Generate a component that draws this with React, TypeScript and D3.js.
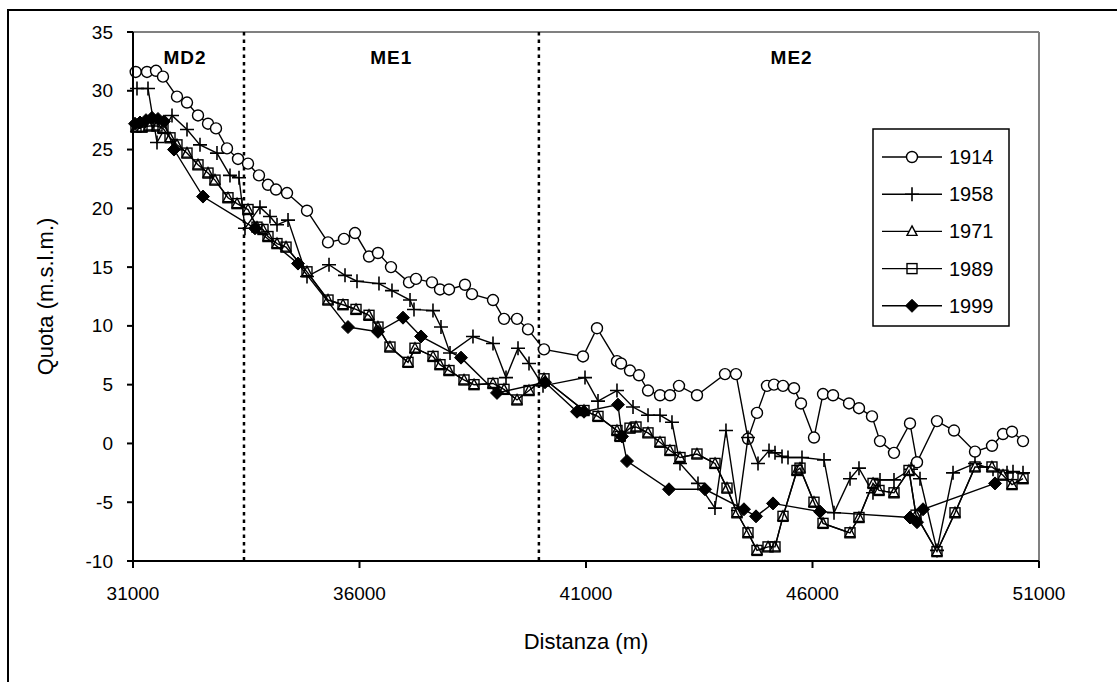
import React from "react";
import * as d3 from "d3";

// ---- Data (distance m, quota m.s.l.m.) ----
const s1914: [number, number][] = [
  [31060, 31.6], [31309, 31.6], [31508, 31.7], [31662, 31.2], [31971, 29.5], [32192, 29.0],
  [32435, 27.9], [32656, 27.2], [32832, 26.8], [33075, 25.1], [33318, 24.2], [33539, 23.8],
  [33781, 22.8], [33980, 22.0], [34157, 21.6], [34400, 21.3], [34841, 19.8], [35305, 17.1],
  [35658, 17.4], [35901, 17.9], [36210, 15.9], [36408, 16.2], [36695, 15.0], [37093, 13.7],
  [37247, 14.0], [37600, 13.7], [37777, 13.1], [37976, 13.1], [38329, 13.5], [38483, 12.7],
  [38947, 12.2], [39190, 10.6], [39477, 10.6], [39720, 9.7], [40073, 8.0], [40934, 7.4],
  [41243, 9.8], [41684, 7.0], [41773, 6.8], [41971, 6.2], [42170, 5.8], [42369, 4.5],
  [42634, 4.1], [42854, 4.1], [43053, 4.9], [43450, 4.1], [44068, 5.9], [44311, 5.9],
  [44576, 0.4], [44775, 2.6], [44995, 4.9], [45150, 5.0], [45349, 4.9], [45592, 4.7],
  [45746, 3.4], [46033, 0.5], [46232, 4.2], [46453, 4.1], [46806, 3.4], [47026, 3.0],
  [47313, 2.3], [47490, 0.2], [47799, -0.8], [48152, 1.7], [48307, -1.6], [48748, 1.9],
  [49124, 1.1], [49587, -0.7], [49963, -0.2], [50205, 0.8], [50404, 1.0], [50647, 0.2],
];

const s1958: [number, number][] = [
  [31088, 30.2], [31331, 30.2], [31530, 25.6], [31861, 27.9], [32192, 26.7], [32479, 25.4],
  [32854, 24.7], [33141, 22.8], [33340, 22.6], [33472, 18.3], [33803, 20.1], [34024, 19.3],
  [34179, 18.6], [34422, 19.0], [34841, 14.2], [35327, 15.2], [35680, 14.3], [35945, 13.8],
  [36430, 13.6], [36717, 13.0], [37115, 12.2], [37203, 11.4], [37622, 11.3], [37799, 9.9],
  [37998, 7.7], [38505, 9.1], [38947, 8.5], [39234, 5.6], [39499, 8.1], [39742, 6.8],
  [40051, 4.9], [40978, 5.6], [41265, 3.6], [41684, 4.5], [42038, 3.1], [42369, 2.4],
  [42634, 2.4], [42898, 1.8], [43075, -1.7], [43472, -3.4], [43847, -5.5], [44090, 1.1],
  [44355, -5.7], [44576, 0.5], [44797, -1.7], [45040, -0.6], [45172, -0.8], [45327, -1.1],
  [45459, -1.2], [45768, -1.2], [46254, -1.4], [46475, -5.9], [46828, -3.0], [47026, -2.1],
  [47335, -4.2], [47490, -3.1], [47799, -3.1], [48174, -2.2], [48373, -3.0], [48748, -9.1],
  [49102, -2.5], [49587, -1.7], [49985, -2.2], [50294, -2.5], [50426, -2.4], [50647, -2.5],
];

const s1971: [number, number][] = [
  [31066, 26.9], [31199, 26.9], [31353, 27.0], [31530, 27.0], [31662, 26.8], [31817, 26.0],
  [31971, 25.4], [32192, 24.7], [32435, 23.7], [32656, 23.0], [32810, 22.4], [33097, 20.9],
  [33296, 20.4], [33539, 19.9], [33737, 18.4], [33870, 18.2], [33980, 17.6], [34179, 17.0],
  [34378, 16.7], [34841, 14.6], [35305, 12.2], [35636, 11.8], [35923, 11.4], [36210, 10.9],
  [36408, 9.9], [36673, 8.2], [37071, 6.9], [37225, 8.1], [37623, 7.4], [37777, 6.7],
  [37976, 6.2], [38307, 5.4], [38528, 5.0], [38947, 5.1], [39190, 4.6], [39477, 3.7],
  [39742, 4.5], [40073, 5.5], [40956, 2.8], [41265, 2.3], [41684, 1.1], [41751, 0.6],
  [41971, 1.3], [42104, 1.4], [42369, 0.9], [42634, 0.1], [42854, -0.6], [43075, -1.2],
  [43450, -0.9], [43848, -1.7], [44113, -3.8], [44333, -5.9], [44576, -7.6], [44775, -9.1],
  [45018, -8.8], [45172, -8.8], [45349, -6.2], [45658, -2.3], [45724, -2.1], [46033, -5.0],
  [46232, -6.8], [46828, -7.6], [47026, -6.3], [47336, -3.4], [47468, -4.0], [47799, -4.2],
  [48130, -2.3], [48285, -6.1], [48748, -9.2], [49146, -5.9], [49587, -2.0], [49962, -2.0],
  [50205, -2.7], [50404, -3.5], [50647, -3.0],
];

const s1989: [number, number][] = [
  [31066, 26.9], [31199, 26.9], [31353, 27.0], [31530, 27.0], [31662, 26.8], [31817, 26.0],
  [31971, 25.4], [32192, 24.7], [32435, 23.7], [32656, 23.0], [32810, 22.4], [33097, 20.9],
  [33296, 20.4], [33539, 19.9], [33737, 18.4], [33870, 18.2], [33980, 17.6], [34179, 17.0],
  [34378, 16.7], [34841, 14.6], [35305, 12.2], [35636, 11.8], [35923, 11.4], [36210, 10.9],
  [36408, 9.9], [36673, 8.2], [37071, 6.9], [37225, 8.1], [37623, 7.4], [37777, 6.7],
  [37976, 6.2], [38307, 5.4], [38528, 5.0], [38947, 5.1], [39190, 4.6], [39477, 3.7],
  [39742, 4.5], [40073, 5.5], [40956, 2.8], [41265, 2.3], [41684, 1.1], [41751, 0.6],
  [41971, 1.3], [42104, 1.4], [42369, 0.9], [42634, 0.1], [42854, -0.6], [43075, -1.2],
  [43450, -0.9], [43848, -1.7], [44113, -3.8], [44333, -5.9], [44576, -7.6], [44775, -9.1],
  [45018, -8.8], [45172, -8.8], [45349, -6.2], [45658, -2.3], [45724, -2.1], [46033, -5.0],
  [46232, -6.8], [46828, -7.6], [47026, -6.3], [47336, -3.4], [47468, -4.0], [47799, -4.2],
  [48130, -2.3], [48285, -6.1], [48748, -9.2], [49146, -5.9], [49587, -2.0], [49962, -2.0],
  [50205, -2.7], [50404, -3.5], [50647, -3.0],
];

const s1999: [number, number][] = [
  [31044, 27.2], [31155, 27.3], [31287, 27.5], [31420, 27.7], [31552, 27.6], [31684, 27.4],
  [31905, 25.0], [32545, 21.0], [33693, 18.3], [34642, 15.3], [35746, 9.9], [36408, 9.5],
  [36960, 10.7], [37358, 9.1], [38241, 7.3], [39035, 4.3], [40095, 5.2], [40801, 2.7],
  [40956, 2.7], [41706, 3.3], [41795, 0.6], [41905, -1.5], [42832, -3.9], [43627, -3.9],
  [44487, -5.6], [44753, -6.2], [45128, -5.1], [46166, -5.8], [48152, -6.3], [48307, -6.7],
  [48440, -5.6], [50029, -3.4],
];

const seriesNames = ["1914", "1958", "1971", "1989", "1999"];
const seriesMarkers = ["circle", "plus", "triangle", "square", "diamond"];
const seriesData = [s1914, s1958, s1971, s1989, s1999];

const xTicks = [31000, 36000, 41000, 46000, 51000];
const yTicks = [-10, -5, 0, 5, 10, 15, 20, 25, 30, 35];

const sectionBounds = [33450, 39960];
const sectionLabels: [string, number][] = [
  ["MD2", 32150],
  ["ME1", 36700],
  ["ME2", 45540],
];

const FONT = "'Liberation Sans', Arial, Helvetica, sans-serif";

function Marker({ type, x, y }: { type: string; x: number; y: number }) {
  const sw = 1.4;
  switch (type) {
    case "circle":
      return <circle cx={x} cy={y} r={5.5} fill="#fff" stroke="#000" strokeWidth={sw} />;
    case "plus":
      return (
        <path
          d={`M${x - 7},${y}H${x + 7}M${x},${y - 7}V${y + 7}`}
          stroke="#000"
          strokeWidth={1.6}
          fill="none"
        />
      );
    case "triangle":
      return (
        <path
          d={`M${x},${y - 5.5}L${x + 5},${y + 4}L${x - 5},${y + 4}Z`}
          fill="#fff"
          stroke="#000"
          strokeWidth={sw}
        />
      );
    case "square":
      return (
        <rect x={x - 5} y={y - 5} width={10} height={10} fill="none" stroke="#000" strokeWidth={sw} />
      );
    case "diamond":
      return (
        <path
          d={`M${x},${y - 6.5}L${x + 6.5},${y}L${x},${y + 6.5}L${x - 6.5},${y}Z`}
          fill="#000"
          stroke="#000"
          strokeWidth={1}
        />
      );
    default:
      return null;
  }
}

export default function App() {
  const W = 1117;
  const H = 682;
  const left = 133;
  const right = 1039;
  const top = 32;
  const bottom = 561;

  const x = d3.scaleLinear().domain([31000, 51000]).range([left, right]);
  const y = d3.scaleLinear().domain([-10, 35]).range([bottom, top]);
  const line = d3
    .line<[number, number]>()
    .x((d) => x(d[0]))
    .y((d) => y(d[1]));

  const legendX = 873;
  const legendY = 129;
  const legendW = 136;
  const legendH = 197;
  const legendRowY = (i: number) => 157 + i * 37.2;

  return (
    <svg
      width={W}
      height={H}
      style={{ position: "absolute", left: 0, top: 0, display: "block", background: "#fff" }}
      fontFamily={FONT}
    >
      <rect x={0} y={0} width={W} height={H} fill="#fff" />
      {/* outer frame */}
      <rect x={8} y={10} width={1300} height={900} fill="none" stroke="#000" strokeWidth={2} />

      {/* plot border (top/right gray) */}
      <line x1={left} x2={right} y1={top} y2={top} stroke="#808080" strokeWidth={2} />
      <line x1={right} x2={right} y1={top} y2={bottom} stroke="#808080" strokeWidth={2} />

      {/* section dividers */}
      {sectionBounds.map((b) => (
        <line
          key={b}
          x1={x(b)}
          x2={x(b)}
          y1={top}
          y2={bottom}
          stroke="#000"
          strokeWidth={2.5}
          strokeDasharray="3.5,4"
        />
      ))}
      {sectionLabels.map(([t, d]) => (
        <text
          key={t}
          x={x(d)}
          y={64}
          textAnchor="middle"
          fontWeight="bold"
          fontSize={19}
          letterSpacing={1}
        >
          {t}
        </text>
      ))}

      {/* series */}
      {seriesData.map((data, i) => (
        <g key={seriesNames[i]}>
          <path d={line(data) || ""} fill="none" stroke="#000" strokeWidth={1.4} />
          {data.map((d, j) => (
            <Marker key={j} type={seriesMarkers[i]} x={x(d[0])} y={y(d[1])} />
          ))}
        </g>
      ))}

      {/* axes */}
      <line x1={left} x2={left} y1={top} y2={bottom} stroke="#000" strokeWidth={2} />
      <line x1={left} x2={right} y1={bottom} y2={bottom} stroke="#000" strokeWidth={2} />
      {yTicks.map((t) => (
        <g key={t}>
          <line x1={left - 6} x2={left} y1={y(t)} y2={y(t)} stroke="#000" strokeWidth={2} />
          <text x={left - 20} y={y(t) + 6.5} textAnchor="end" fontSize={19}>
            {t}
          </text>
        </g>
      ))}
      {xTicks.map((t) => (
        <g key={t}>
          <line x1={x(t)} x2={x(t)} y1={bottom} y2={bottom + 7} stroke="#000" strokeWidth={2} />
          <text x={x(t)} y={bottom + 39} textAnchor="middle" fontSize={19}>
            {t}
          </text>
        </g>
      ))}
      <text x={586} y={649} textAnchor="middle" fontSize={22}>
        Distanza (m)
      </text>
      <text
        transform={`translate(53,${(top + bottom) / 2}) rotate(-90)`}
        textAnchor="middle"
        fontSize={22}
      >
        Quota (m.s.l.m.)
      </text>

      {/* legend */}
      <rect x={legendX} y={legendY} width={legendW} height={legendH} fill="#fff" stroke="#000" strokeWidth={1.5} />
      {seriesNames.map((n, i) => (
        <g key={n}>
          <line x1={882} x2={942} y1={legendRowY(i)} y2={legendRowY(i)} stroke="#000" strokeWidth={1.4} />
          <Marker type={seriesMarkers[i]} x={912} y={legendRowY(i)} />
          <text x={949} y={legendRowY(i) + 7} fontSize={20}>
            {n}
          </text>
        </g>
      ))}
    </svg>
  );
}
